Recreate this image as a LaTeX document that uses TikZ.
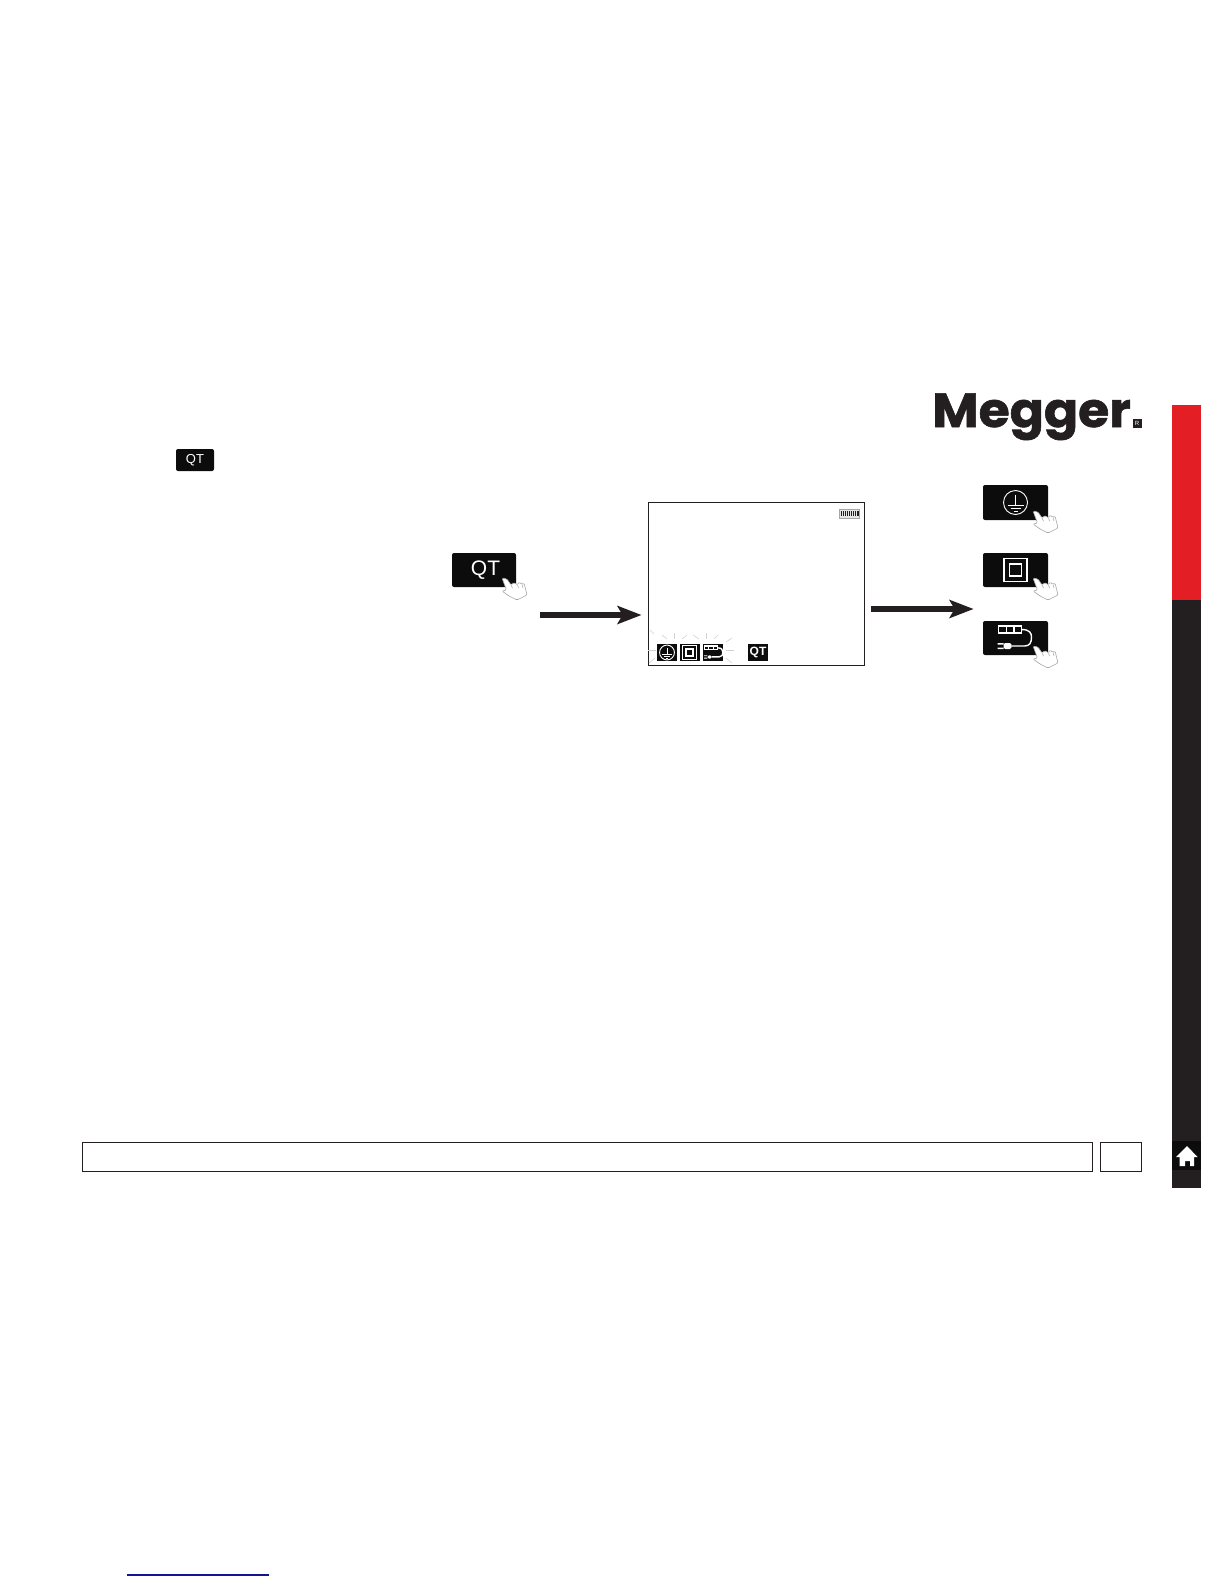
\documentclass[tikz,border=0pt]{standalone}
\usepackage{fontspec}
\setmainfont{Liberation Sans}
\newfontfamily\logofont{Poppins}[BoldFeatures={FakeBold=1.2}]
\usetikzlibrary{arrows.meta, positioning, calc}
\definecolor{inkblack}{RGB}{35,31,32}
\definecolor{keyblack}{RGB}{12,12,12}
\definecolor{sidered}{RGB}{227,30,36}
\definecolor{linkblue}{RGB}{20,20,150}
\tikzset{
  keybox/.style={fill=keyblack, rounded corners=1pt, inner sep=0pt, text=white},
  screenkey/.style={fill=keyblack, inner sep=0pt, text=white, minimum width=10pt, minimum height=8.5pt},
  footbox/.style={draw=inkblack, line width=0.45pt, inner sep=0pt, minimum height=14.5pt},
  sidebar/.style={inner sep=0pt, minimum width=14.5pt},
  bigarrow/.style={-{Stealth[length=12pt, width=9pt, inset=2.5pt]}, inkblack, line width=3pt},
  flashray/.style={gray!35, line width=0.3pt},
  iconline/.style={white, line width=0.45pt},
  handpic/.pic={
    \draw[fill=white, draw=gray!70, line width=0.3pt, rounded corners=0.6pt]
      (0,0) -- (5,1) -- (9,7) -- (12,4.5) -- (15.5,7) -- (17,4) -- (20,6.5) -- (22,5)
      -- (25,17) -- (15,22) -- (7,18) -- (0,13) -- (4.5,12) -- cycle;
    \draw[gray!70, line width=0.25pt] (9,7) -- (10.5,10) (15.5,7) -- (16.5,10) (20,6.5) -- (21,10);
  },
  earthpic/.pic={
    \draw[iconline] (0,0) circle[radius=12];
    \draw[iconline] (0,-8) -- (0,3) (-8,3) -- (8,3) (-5,6) -- (5,6) (-2,9) -- (2,9);
  },
  squarepic/.pic={
    \draw[iconline, line width=0.6pt] (-11.5,-11.5) rectangle (11.5,11.5);
    \draw[iconline, line width=0.6pt] (-6,-6) rectangle (6,6);
  },
  leadpic/.pic={
    \draw[iconline, line width=0.6pt] (-17,-12) rectangle (6,-5) (-9.3,-12) -- (-9.3,-5) (-1.6,-12) -- (-1.6,-5);
    \draw[iconline, line width=0.7pt] (6,-8.5) .. controls (14,-8.5) and (16,-5) .. (16,-1)
      .. controls (16,5) and (14,8) .. (9,8) -- (-4,8);
    \fill[white, rounded corners=0.8pt] (-12,5) rectangle (-4,11);
    \fill[white] (-18,5) rectangle (-12,6.5) (-18,9.5) rectangle (-12,11);
  }
}
\begin{document}
\begin{tikzpicture}[x=0.5pt, y=-0.5pt, font=\small]
  \useasboundingbox (0,0) rectangle (1224,1584);

  % Logo
  \node[anchor=base west, inner sep=0pt, text=inkblack, font=\logofont\bfseries\fontsize{24}{24}\selectfont] (logo) at (932,427) {\scalebox{1.05}[1]{Megger}};
  \node[fill=inkblack, text=white, inner sep=0pt, minimum size=4.5pt, font=\fontsize{3}{3}\selectfont] (regmark) at (1137,423.5) {R};

  % Sidebar
  \node[sidebar, fill=sidered, minimum height=97.5pt] (barred) at (1186.5,502.5) {};
  \node[sidebar, fill=inkblack, minimum height=294pt] (barblack) at (1186.5,894) {};
  \node[sidebar, fill=keyblack, minimum height=14.5pt] (homekey) at (1186.5,1155.5) {};
  \fill[white] (1187,1146) -- (1197.5,1157) -- (1194,1157) -- (1194,1166) -- (1190,1166) -- (1190,1161)
    -- (1185,1161) -- (1185,1166) -- (1179.5,1166) -- (1179.5,1157) -- (1176,1157) -- cycle;

  % Small key in text
  \node[keybox, minimum width=19pt, minimum height=11pt, font=\fontsize{6.5}{6.5}\selectfont] (keysmall) at (195,460) {QT};

  % Step 1: QT key
  \node[keybox, minimum width=32pt, minimum height=17pt, font=\fontsize{10.5}{10.5}\selectfont] (keyqt) at (484,570) {\hspace{1.5pt}QT};
  \pic at (502,578) {handpic};

  % Arrow 1
  \coordinate (arrowone) at (540,615);
  \node[draw=inkblack, line width=0.45pt, inner sep=0pt, minimum width=108pt, minimum height=81.5pt] (screen) at (756,583.5) {};
  \draw[bigarrow, shorten >=3pt] (arrowone) -- (arrowone -| screen.west);

  % Screen
  \node[draw=gray!70, fill=gray!20, line width=0.3pt, inner sep=0pt, minimum width=10pt, minimum height=4.5pt] (battery) at (849,513.5) {};
  \foreach \bx in {841,843,...,855}
    \draw[inkblack, line width=0.38pt] (\bx,511) -- (\bx,516);
  \draw[inkblack, line width=0.3pt] (856.8,511.5) rectangle (858,515.5);

  \node[screenkey] (screenearth) at (667,652.5) {};
  \pic[scale=0.62] at (screenearth) {earthpic};
  \node[screenkey] (screensquare) at (689.5,652.5) {};
  \pic[scale=0.58] at (screensquare) {squarepic};
  \node[screenkey] (screenlead) at (713,652.5) {};
  \pic[scale=0.55] at (714,652.5) {leadpic};
  \node[screenkey, font=\bfseries\fontsize{6}{6}\selectfont] (screenqt) at (758,652.5) {QT};

  % Flashing rays
  \foreach \xa/\ya/\xb/\yb in {650/630/654/634, 662/635/667/639, 674/633/674/639, 682/639/687/635,
      693/635/699/639, 706/633/706/639, 714/639/718/635, 726/642/732/638, 726/650/734/650,
      726/658/732/663, 648/650/656/650, 649/663/655/658}
    \draw[flashray] (\xa,\ya) -- (\xb,\yb);

  % Arrow 2
  \node[keybox, minimum width=32.5pt, minimum height=17.5pt] (keyearth) at (1015.5,502.5) {};
  \pic at (keyearth) {earthpic};
  \pic at (1033,511) {handpic};
  \node[keybox, minimum width=32.5pt, minimum height=17pt] (keysquare) at (1015.5,570) {};
  \pic at (keysquare) {squarepic};
  \pic at (1033,578) {handpic};
  \node[keybox, minimum width=32.5pt, minimum height=17pt] (keylead) at (1015.5,638) {};
  \pic at (keylead) {leadpic};
  \pic at (1033,646) {handpic};

  \coordinate (arrowtwo) at (920,609);
  \draw[bigarrow, shorten <=3.5pt, shorten >=4.5pt] (screen.east |- arrowtwo) -- (arrowtwo -| keysquare.west);

  % Footer
  \node[footbox, minimum width=505pt] (footmain) at (587,1156.5) {};
  \node[footbox, minimum width=20.5pt] (footpage) at (1120.5,1157) {};

  % Link line
  \draw[linkblue, line width=0.6pt] (127,1575) -- (269,1575);
\end{tikzpicture}
\end{document}
